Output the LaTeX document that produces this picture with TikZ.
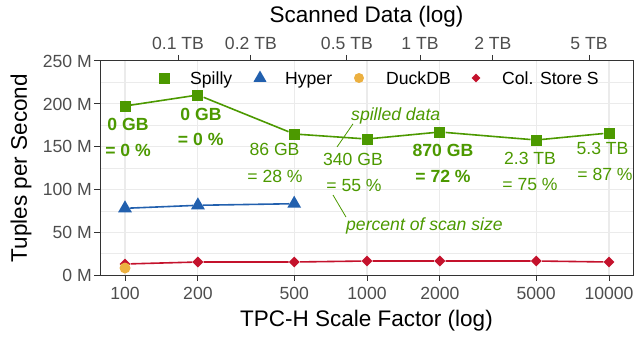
\documentclass[tikz,border=0pt]{standalone}
\usepackage{fontspec}
\setmainfont{Liberation Sans}
\usetikzlibrary{shapes.geometric}

\definecolor{spillygreen}{RGB}{76,153,0}
\definecolor{hyperblue}{RGB}{34,96,174}
\definecolor{duckorange}{RGB}{236,176,64}
\definecolor{colred}{RGB}{196,18,44}
\definecolor{gridgray}{RGB}{235,235,235}
\definecolor{tickgray}{RGB}{77,77,77}
\definecolor{framegray}{RGB}{51,51,51}

\begin{document}
\begin{tikzpicture}[x=1pt, y=-1pt,
    majorgrid/.style={draw=gridgray, line width=1.1pt},
    minorgrid/.style={draw=gridgray, line width=0.6pt},
    axistick/.style={draw=framegray, line width=1pt},
    ticklabel/.style={font=\fontsize{17.6}{20}\selectfont, text=tickgray, inner sep=0pt},
    axistitle/.style={font=\fontsize{22.5}{26}\selectfont, inner sep=0pt},
    legendtext/.style={font=\fontsize{17.6}{20}\selectfont, inner sep=0pt, anchor=base west},
    spillymark/.style={rectangle, fill=spillygreen, minimum size=11pt, inner sep=0pt},
    hypermark/.style={regular polygon, regular polygon sides=3, fill=hyperblue, minimum size=16pt, inner sep=0pt},
    duckmark/.style={circle, fill=duckorange, minimum size=11pt, inner sep=0pt},
    colmark/.style={diamond, fill=colred, minimum size=11pt, inner sep=0pt},
    spillyline/.style={draw=spillygreen, line width=1.6pt},
    hyperline/.style={draw=hyperblue, line width=1.6pt},
    colline/.style={draw=colred, line width=1.6pt},
    sizelabel/.style={font=\fontsize{17.6}{20}\selectfont, text=spillygreen, inner sep=0pt, anchor=base},
    boldlabel/.style={sizelabel, font=\fontsize{17.6}{20}\selectfont\bfseries},
    annotlabel/.style={font=\fontsize{17.6}{20}\selectfont\itshape, text=spillygreen, inner sep=0pt, anchor=base west},
    annotline/.style={draw=spillygreen, line width=0.8pt}]

        \useasboundingbox (0,0) rectangle (634,337);

        % Grid lines

        \draw[minorgrid] (100,253.6) -- (633,253.6);
        \draw[minorgrid] (100,210.8) -- (633,210.8);
        \draw[minorgrid] (100,168.0) -- (633,168.0);
        \draw[minorgrid] (100,125.2) -- (633,125.2);
        \draw[minorgrid] (100,82.4) -- (633,82.4);

        \draw[majorgrid] (100,232.2) -- (633,232.2);
        \draw[majorgrid] (100,189.4) -- (633,189.4);
        \draw[majorgrid] (100,146.6) -- (633,146.6);
        \draw[majorgrid] (100,103.8) -- (633,103.8);

        \draw[majorgrid] (125,61) -- (125,275);
        \draw[majorgrid] (197.9,61) -- (197.9,275);
        \draw[majorgrid] (294.2,61) -- (294.2,275);
        \draw[majorgrid] (367,61) -- (367,275);
        \draw[majorgrid] (439.9,61) -- (439.9,275);
        \draw[majorgrid] (536.2,61) -- (536.2,275);
        \draw[majorgrid] (609,61) -- (609,275);

        % Panel frame and ticks

        \draw[axistick] (100,61) rectangle (633,275);

        \draw[axistick] (94,275) -- (100,275);
        \draw[axistick] (94,232.2) -- (100,232.2);
        \draw[axistick] (94,189.4) -- (100,189.4);
        \draw[axistick] (94,146.6) -- (100,146.6);
        \draw[axistick] (94,103.8) -- (100,103.8);
        \draw[axistick] (94,61) -- (100,61);

        \draw[axistick] (125,275) -- (125,281);
        \draw[axistick] (197.9,275) -- (197.9,281);
        \draw[axistick] (294.2,275) -- (294.2,281);
        \draw[axistick] (367,275) -- (367,281);
        \draw[axistick] (439.9,275) -- (439.9,281);
        \draw[axistick] (536.2,275) -- (536.2,281);
        \draw[axistick] (609,275) -- (609,281);

        \draw[axistick] (178,55) -- (178,61);
        \draw[axistick] (250.9,55) -- (250.9,61);
        \draw[axistick] (346.9,55) -- (346.9,61);
        \draw[axistick] (420,55) -- (420,61);
        \draw[axistick] (492.9,55) -- (492.9,61);
        \draw[axistick] (589,55) -- (589,61);

        % Tick labels

        \node (y0)   at (92,281.3) [ticklabel, anchor=base east] {0 M};
        \node (y50)  at (92,238.5) [ticklabel, anchor=base east] {50 M};
        \node (y100) at (92,195.7) [ticklabel, anchor=base east] {100 M};
        \node (y150) at (92,152.9) [ticklabel, anchor=base east] {150 M};
        \node (y200) at (92,110.1) [ticklabel, anchor=base east] {200 M};
        \node (y250) at (92,67.3)  [ticklabel, anchor=base east] {250 M};

        \node (x100)   at (125,299.3)   [ticklabel, anchor=base] {100};
        \node (x200)   at (197.9,299.3) [ticklabel, anchor=base] {200};
        \node (x500)   at (294.2,299.3) [ticklabel, anchor=base] {500};
        \node (x1000)  at (367,299.3)   [ticklabel, anchor=base] {1000};
        \node (x2000)  at (439.9,299.3) [ticklabel, anchor=base] {2000};
        \node (x5000)  at (536.2,299.3) [ticklabel, anchor=base] {5000};
        \node (x10000) at (609,299.3)   [ticklabel, anchor=base] {10000};

        \node (tb01) at (178,49.3)   [ticklabel, anchor=base] {0.1 TB};
        \node (tb02) at (250.9,49.3) [ticklabel, anchor=base] {0.2 TB};
        \node (tb05) at (346.9,49.3) [ticklabel, anchor=base] {0.5 TB};
        \node (tb1)  at (420,49.3)   [ticklabel, anchor=base] {1 TB};
        \node (tb2)  at (492.9,49.3) [ticklabel, anchor=base] {2 TB};
        \node (tb5)  at (589,49.3)   [ticklabel, anchor=base] {5 TB};

        % Axis titles

        \node (toptitle) at (366.5,22.5) [axistitle, anchor=base] {Scanned Data (log)};
        \node (xtitle)   at (366.5,326)  [axistitle, anchor=base] {TPC-H Scale Factor (log)};
        \node (ytitle)   at (27,168)     [axistitle, anchor=base, rotate=90] {Tuples per Second};

        % Legend

        \node (legsp) at (164,78) [spillymark] {};
        \node (legsptext) at (190,84) [legendtext] {Spilly};
        \node (leghy) at (260,78) [hypermark, minimum size=15pt] {};
        \node (leghytext) at (285,84) [legendtext] {Hyper};
        \node (legdk) at (359,78) [duckmark, minimum size=10pt] {};
        \node (legdktext) at (386,84) [legendtext] {DuckDB};
        \node (legcs) at (476,78) [colmark, minimum size=9pt] {};
        \node (legcstext) at (502,84) [legendtext] {Col. Store S};

        % Col. Store S

        \node (cs100) at (125,264)   [colmark] {};
        \node (cs200) at (197.9,262) [colmark] {};
        \node (cs500) at (294.2,262) [colmark] {};
        \node (cs1k)  at (367,261)   [colmark] {};
        \node (cs2k)  at (439.9,261) [colmark] {};
        \node (cs5k)  at (536.2,261) [colmark] {};
        \node (cs10k) at (609,262)   [colmark] {};

        \draw[colline] (cs100) -- (cs200) -- (cs500) -- (cs1k) -- (cs2k) -- (cs5k) -- (cs10k);

        % DuckDB

        \node (dk100) at (125,268) [duckmark] {};

        % Hyper

        \node (hy100) at (125,208.3)   [hypermark] {};
        \node (hy200) at (197.9,205.3) [hypermark] {};
        \node (hy500) at (294.2,203.7) [hypermark] {};

        \draw[hyperline] (hy100) -- (hy200) -- (hy500);

        % Spilly

        \node (sp100) at (125,106)   [spillymark] {};
        \node (sp200) at (197.9,95)  [spillymark] {};
        \node (sp500) at (294.2,134) [spillymark] {};
        \node (sp1k)  at (367,139)   [spillymark] {};
        \node (sp2k)  at (439.9,132) [spillymark] {};
        \node (sp5k)  at (536.2,140) [spillymark] {};
        \node (sp10k) at (609,133)   [spillymark] {};

        \draw[spillyline] (sp100) -- (sp200) -- (sp500) -- (sp1k) -- (sp2k) -- (sp5k) -- (sp10k);

        % Spilled data labels

        \node (gb100)  at (128,130)   [boldlabel] {0 GB};
        \node (pc100)  at (128,156)   [boldlabel] {= 0 \%};
        \node (gb200)  at (201,120)   [boldlabel] {0 GB};
        \node (pc200)  at (200.7,145) [boldlabel] {= 0 \%};
        \node (gb500)  at (274.5,155.7) [sizelabel] {86 GB};
        \node (pc500)  at (275,182.7) [sizelabel] {= 28 \%};
        \node (gb1k)   at (353,165)   [sizelabel] {340 GB};
        \node (pc1k)   at (354,191.5) [sizelabel] {= 55 \%};
        \node (gb2k)   at (443,156.5) [boldlabel] {870 GB};
        \node (pc2k)   at (443,182.5) [boldlabel] {= 72 \%};
        \node (gb5k)   at (530,164.5) [sizelabel] {2.3 TB};
        \node (pc5k)   at (530,190.7) [sizelabel] {= 75 \%};
        \node (gb10k)  at (602.5,154.3) [sizelabel] {5.3 TB};
        \node (pc10k)  at (605,180)   [sizelabel] {= 87 \%};

        % Annotations

        \node (spilled) at (351,120) [annotlabel] {spilled data};
        \coordinate (spilltip) at (337,147);
        \draw[annotline] (spilled.south west) ++(2,0) -- (spilltip);

        \node (percent) at (346,230) [annotlabel] {percent of scan size};
        \coordinate (percenttip) at (333,195);
        \draw[annotline] (percenttip) -- (percent.north west);

    \end{tikzpicture}
\end{document}
